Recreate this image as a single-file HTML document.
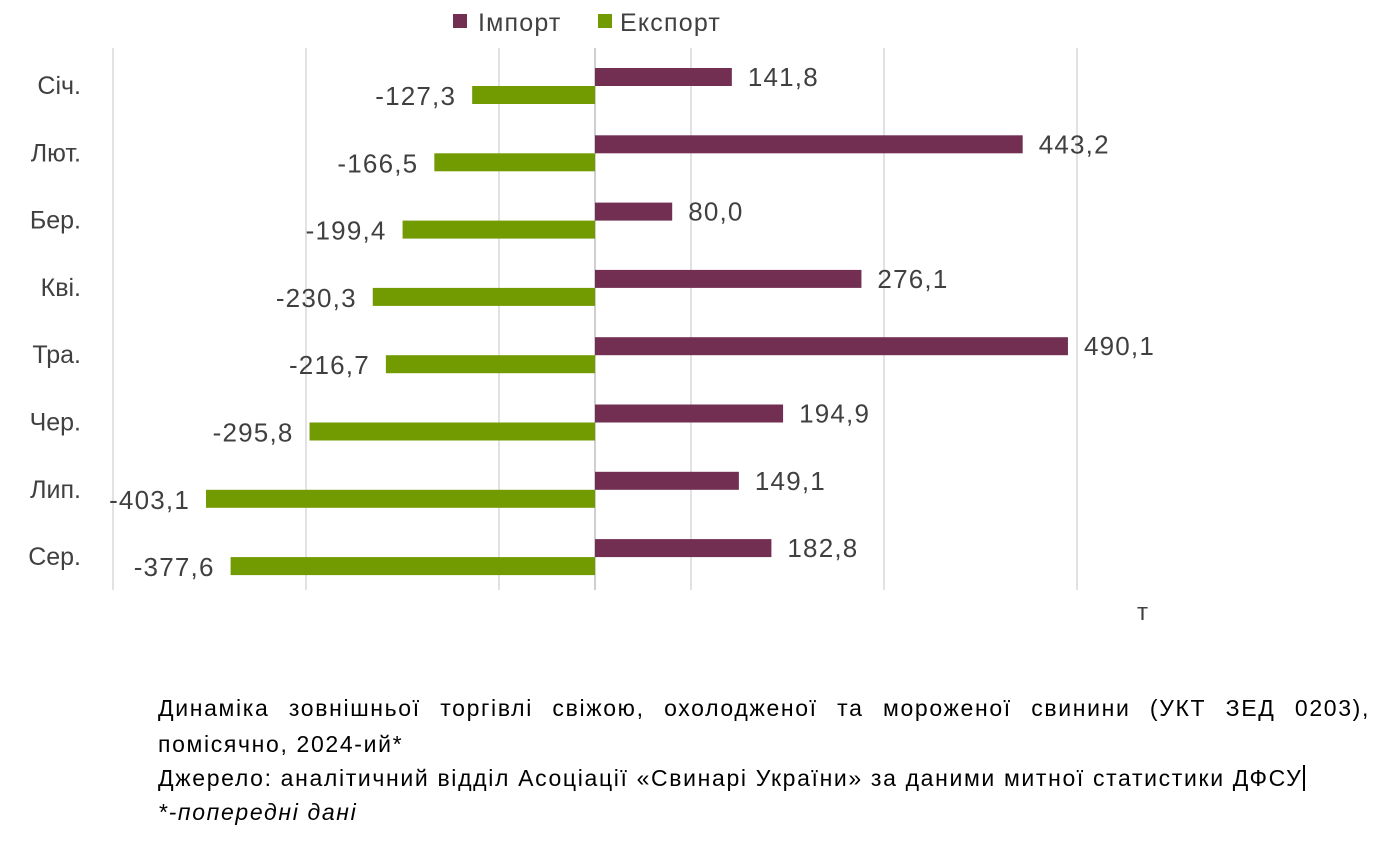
<!DOCTYPE html>
<html><head><meta charset="utf-8"><style>
body{margin:0;background:#fff;width:1391px;height:847px;overflow:hidden;font-family:"Liberation Sans","DejaVu Sans",sans-serif;}
.cap{position:absolute;left:158px;width:1212px;font-size:23px;letter-spacing:1.65px;color:#000;line-height:36px;}
</style></head><body>
<svg width="1391" height="847" style="position:absolute;left:0;top:0" font-family="Liberation Sans, DejaVu Sans, sans-serif">
<g stroke="#d9d9d9" stroke-width="1.5">
<line x1="113" y1="48" x2="113" y2="590"/><line x1="306" y1="48" x2="306" y2="590"/>
<line x1="499" y1="48" x2="499" y2="590"/><line x1="691" y1="48" x2="691" y2="590"/>
<line x1="884" y1="48" x2="884" y2="590"/><line x1="1077" y1="48" x2="1077" y2="590"/>
</g>
<line x1="595" y1="48" x2="595" y2="590" stroke="#bfbfbf" stroke-width="1.5"/>
<rect x="453" y="14" width="14" height="14" fill="#722f52"/>
<text x="478" y="31" font-size="25" letter-spacing="1.2" fill="#404040">Імпорт</text>
<rect x="598" y="14" width="14" height="14" fill="#719b00"/>
<text x="620" y="31" font-size="25" letter-spacing="1.2" fill="#404040">Експорт</text>
<g font-size="26" letter-spacing="1.2" fill="#404040">
<g id="bars"></g>
</g>
<g id="cats" font-size="25" fill="#404040"></g>
<text x="1137" y="620" font-size="24" fill="#404040">т</text>
</svg>
<div class="cap" style="top:690px;text-align:justify;text-align-last:left">Динаміка зовнішньої торгівлі свіжою, охолодженої та мороженої свинини (УКТ ЗЕД 0203), помісячно, 2024-ий*</div>
<div class="cap" style="top:762px;line-height:32px">Джерело: аналітичний відділ Асоціації «Свинарі України» за даними митної статистики ДФСУ<span style="border-left:2px solid #000;margin-left:1px"></span></div>
<div class="cap" style="top:796px;line-height:32px;font-style:italic">*-попередні дані</div>
<script>
var d=[["Січ.",141.8,-127.3],["Лют.",443.2,-166.5],["Бер.",80.0,-199.4],["Кві.",276.1,-230.3],["Тра.",490.1,-216.7],["Чер.",194.9,-295.8],["Лип.",149.1,-403.1],["Сер.",182.8,-377.6]];
var s="",c="",k=0.965,z=595;
d.forEach(function(r,i){var y=68+i*67.3;var f=function(v){return v.toFixed(1).replace(".",",")};
var w1=r[1]*k,w2=-r[2]*k;
s+='<rect x="'+z+'" y="'+y+'" width="'+w1+'" height="18" fill="#722f52"/>';
s+='<rect x="'+(z-w2)+'" y="'+(y+18)+'" width="'+w2+'" height="18" fill="#719b00"/>';
s+='<text x="'+(z+w1+16)+'" y="'+(y+18)+'">'+f(r[1])+'</text>';
s+='<text x="'+(z-w2-16)+'" y="'+(y+37)+'" text-anchor="end">'+f(r[2])+'</text>';
c+='<text x="81" y="'+(y+26)+'" text-anchor="end">'+r[0]+'</text>';});
document.getElementById("bars").innerHTML=s;
document.getElementById("cats").innerHTML=c;
</script>
</body></html>
